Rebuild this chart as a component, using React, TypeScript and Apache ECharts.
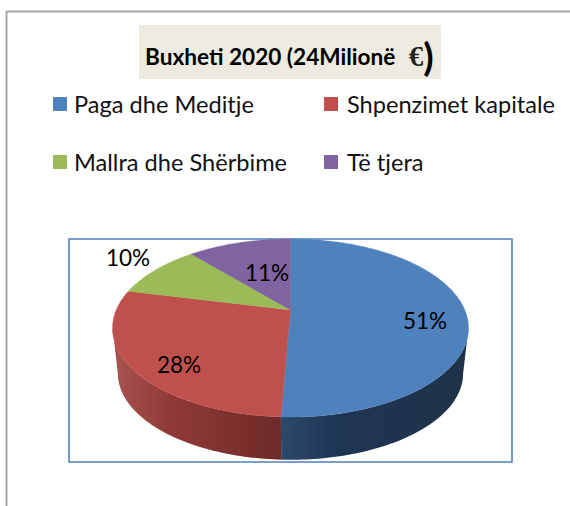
import React, { useEffect, useRef } from "react";
import * as echarts from "echarts";

const categories = ["Paga dhe Meditje", "Shpenzimet kapitale", "Mallra dhe Shërbime", "Të tjera"];
const values = [50.7, 28, 9.9, 11.4];
const colors = ["#4F81BD", "#C0504D", "#9BBB59", "#8064A2"];
const sideStops = [
  [[0, "#2C4A6C"], [0.3, "#1E3552"], [1, "#1F3249"]],
  [[0, "#AA5350"], [0.35, "#8F3A37"], [1, "#6E2A27"]],
];
const labelPositions = [[425, 320], [179, 364], [128, 257], [267, 272]];

const FONT = "Lato";
const APEX = [290.5, 310];
const K = 0.202;
const A = 174.3;
const B = 85.4;
const DEPTH = 46;
const BOTTOM_SCALE = 0.97;
const TANGENT = Math.acos(-K);

function rim(theta: number, bottom: boolean) {
  const u = Math.sin(theta);
  const v = Math.cos(theta);
  const w = 1 + K * v;
  const s = bottom ? BOTTOM_SCALE : 1;
  return [APEX[0] + (s * A * u) / w, APEX[1] + (bottom ? DEPTH : 0) - (s * B * v) / w];
}

function arc(from: number, to: number, bottom: boolean) {
  const n = Math.max(2, Math.ceil(Math.abs(to - from) / 0.02));
  const pts: number[][] = [];
  for (let i = 0; i <= n; i++) pts.push(rim(from + ((to - from) * i) / n, bottom));
  return pts;
}

const total = values.reduce((a, b) => a + b, 0);

function sliceSeries(idx: number) {
  const before = values.slice(0, idx).reduce((a, b) => a + b, 0);
  const start = (before / total) * Math.PI * 2;
  const end = ((before + values[idx]) / total) * Math.PI * 2;
  return {
    type: "custom",
    name: categories[idx],
    coordinateSystem: "none",
    itemStyle: { color: colors[idx] },
    z: 2,
    data: [values[idx]],
    renderItem: () => {
      const children: any[] = [];
      const s0 = Math.max(start, TANGENT);
      const s1 = Math.min(end, Math.PI * 2 - TANGENT);
      if (s1 > s0 && sideStops[idx]) {
        const pts = [...arc(s0, s1, false), ...arc(s1, s0, true)];
        children.push({
          type: "polygon",
          shape: { points: pts },
          style: {
            fill: new echarts.graphic.LinearGradient(
              0, 0, 1, 0,
              sideStops[idx].map(([offset, color]) => ({ offset, color })) as any
            ),
          },
        });
      }
      children.push({
        type: "polygon",
        shape: { points: [APEX, ...arc(start, end, false)] },
        style: { fill: colors[idx], stroke: colors[idx], lineWidth: 0.4 },
      });
      children.push({
        type: "text",
        z2: 10,
        style: {
          text: `${Math.round(values[idx])}%`,
          x: labelPositions[idx][0],
          y: labelPositions[idx][1],
          align: "center",
          verticalAlign: "middle",
          fontFamily: FONT,
          fontSize: 22.5,
          fill: "#000",
        },
      });
      return { type: "group", children };
    },
  };
}

const legendBase = {
  orient: "vertical",
  icon: "rect",
  itemWidth: 14,
  itemHeight: 14,
  itemGap: 34,
  padding: 0,
  selectedMode: false,
};
const legendText = { fontFamily: FONT, fontSize: 23.6, color: "#111" };

export default function App() {
  const ref = useRef<HTMLDivElement>(null);
  useEffect(() => {
    const chart = echarts.init(ref.current!, undefined, { renderer: "svg" });
    chart.setOption({
      animation: false,
      backgroundColor: "#fff",
      title: {
        left: 145,
        top: 37,
        padding: 0,
        text: "{a|Buxheti 2020 (24Milionë }{b|€}{c|)}",
        textStyle: {
          rich: {
            a: { fontFamily: FONT, fontWeight: "bold", fontSize: 22.6, color: "#000" },
            b: { fontFamily: "Liberation Serif", fontSize: 29, color: "#222", padding: [0, 0, 0, 8] },
            c: { fontFamily: FONT, fontWeight: "bold", fontSize: 38, color: "#000" },
          },
        },
      },
      legend: [
        { ...legendBase, left: 53, top: 92, data: [categories[0], categories[2]], textStyle: { ...legendText, padding: [0, 0, 0, 2] } },
        { ...legendBase, left: 324, top: 92, data: [categories[1], categories[3]], textStyle: { ...legendText, padding: [0, 0, 0, 4] } },
      ],
      graphic: [
        { type: "line", z: -1, shape: { x1: 6.5, y1: 11.5, x2: 570, y2: 11.5 }, style: { stroke: "#A6A6A6", lineWidth: 2 } },
        { type: "line", z: -1, shape: { x1: 6.5, y1: 11, x2: 6.5, y2: 506 }, style: { stroke: "#A6A6A6", lineWidth: 2 } },
        { type: "rect", z: -1, shape: { x: 139, y: 25, width: 302, height: 54 }, style: { fill: "#EDEBE0" } },
        { type: "rect", z: -1, shape: { x: 69, y: 239, width: 443, height: 223 }, style: { fill: "none", stroke: "#4F81BD", lineWidth: 1.6 } },
      ],
      series: values.map((_, i) => sliceSeries(i)),
    });
    return () => chart.dispose();
  }, []);
  return <div ref={ref} style={{ position: "absolute", left: 0, top: 0, width: 570, height: 506 }} />;
}
